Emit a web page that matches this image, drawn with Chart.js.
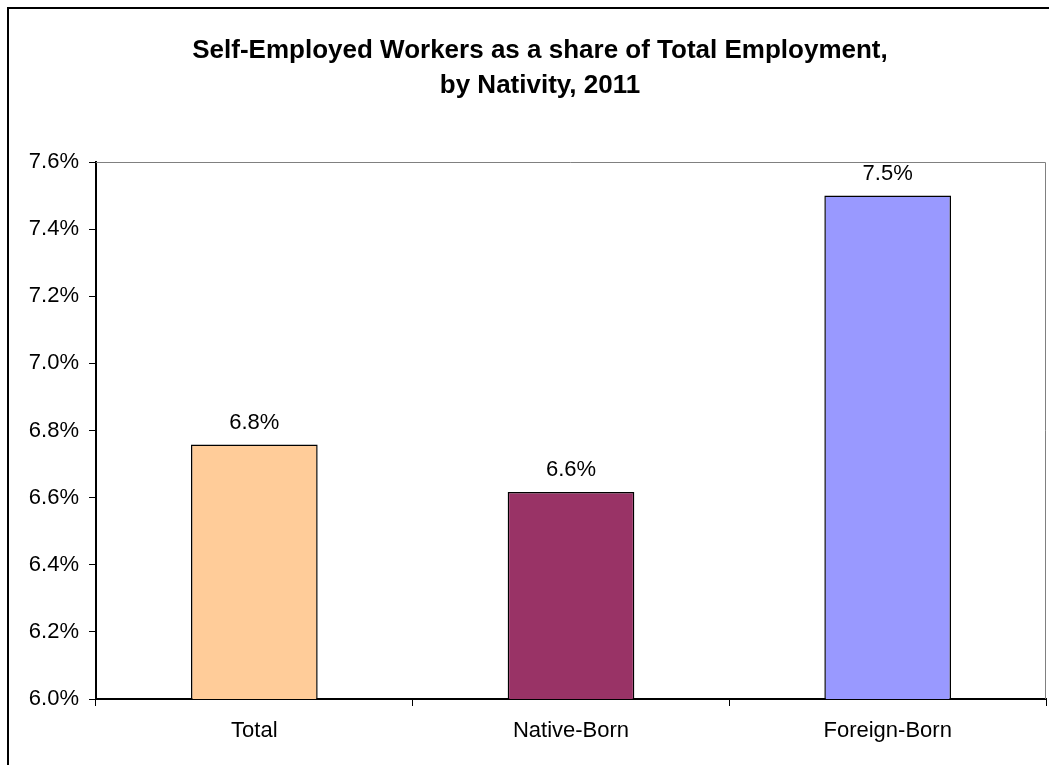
<!DOCTYPE html>
<html>
<head>
<meta charset="utf-8">
<script src="https://cdn.jsdelivr.net/npm/chart.js@4"></script>
<style>
  html, body { margin: 0; padding: 0; background: #fff; }
  #wrap { position: relative; width: 1049px; height: 765px; overflow: hidden; }
  #frame { position: absolute; left: 7px; top: 7px; width: 1100px; height: 800px;
           border-left: 2px solid #000; border-top: 2px solid #000; pointer-events: none; }
</style>
</head>
<body>
<div id="wrap">
  <canvas id="chart" width="1049" height="765"></canvas>
  <div id="frame"></div>
</div>
<script>
// data (percent)
const categories = ['Total', 'Native-Born', 'Foreign-Born'];
const shares = [6.758, 6.617, 7.5];
const barColors = ['#FFCC99', '#993366', '#9999FF'];
const titleLines = ['Self-Employed Workers as a share of Total Employment,', 'by Nativity, 2011'];

const fontName = '"Liberation Sans", Arial, sans-serif';
const textSize = 22;

// title, gray top/right border of the plot area, value labels above bars
const extras = {
  id: 'extras',
  beforeDatasetsDraw(chart) {
    const { ctx, chartArea: a } = chart;
    ctx.save();
    ctx.strokeStyle = '#808080';
    ctx.lineWidth = 1;
    ctx.beginPath();
    ctx.moveTo(a.left, a.top + 0.5);
    ctx.lineTo(a.right - 0.5, a.top + 0.5);
    ctx.lineTo(a.right - 0.5, a.bottom);
    ctx.stroke();

    ctx.fillStyle = '#000';
    ctx.font = 'bold 26px ' + fontName;
    ctx.textAlign = 'center';
    ctx.textBaseline = 'alphabetic';
    ctx.fillText(titleLines[0], 540, 58);
    ctx.fillText(titleLines[1], 540, 93);
    ctx.restore();
  },
  afterDatasetsDraw(chart) {
    const { ctx } = chart;
    const meta = chart.getDatasetMeta(0);
    ctx.save();
    ctx.font = textSize + 'px ' + fontName;
    ctx.fillStyle = '#000';
    ctx.textAlign = 'center';
    ctx.textBaseline = 'alphabetic';
    meta.data.forEach((bar, i) => {
      ctx.fillText(shares[i].toFixed(1) + '%', bar.x, bar.y - 16);
    });
    ctx.restore();
  }
};

new Chart(document.getElementById('chart'), {
  type: 'bar',
  data: {
    labels: categories,
    datasets: [{
      data: shares,
      backgroundColor: barColors,
      borderColor: '#000',
      borderWidth: 1.5,
      barPercentage: 0.4,
      categoryPercentage: 1.0
    }]
  },
  options: {
    responsive: false,
    animation: false,
    layout: { padding: { left: 0, right: 3, top: 162, bottom: 0 } },
    plugins: {
      legend: { display: false },
      tooltip: { enabled: false },
      title: { display: false }
    },
    scales: {
      x: {
        grid: { display: true, drawOnChartArea: false, drawTicks: true, tickLength: 7, color: '#000', offset: true },
        border: { color: '#000', width: 2 },
        ticks: { color: '#000', font: { family: fontName, size: textSize }, padding: 12 },
        afterFit(s) { s.height = 66; }
      },
      y: {
        min: 6.0,
        max: 7.6,
        grid: { display: true, drawOnChartArea: false, drawTicks: true, tickLength: 7, color: '#000' },
        border: { color: '#000', width: 2 },
        ticks: {
          stepSize: 0.2,
          color: '#000',
          padding: 10,
          font: { family: fontName, size: textSize },
          callback: v => v.toFixed(1) + '%'
        },
        afterFit(s) { s.width = 96; }
      }
    }
  },
  plugins: [extras]
});
</script>
</body>
</html>
